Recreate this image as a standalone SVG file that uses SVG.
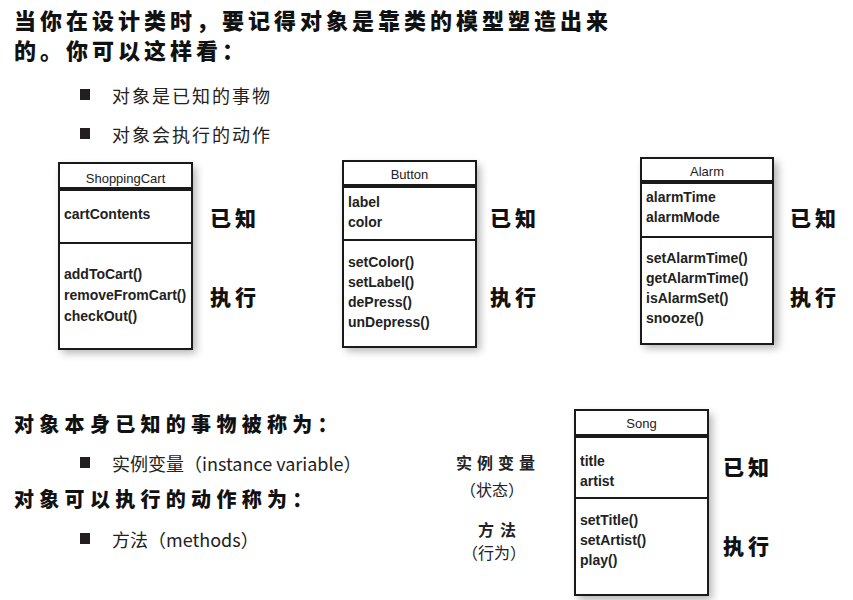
<svg xmlns="http://www.w3.org/2000/svg" width="853" height="600" viewBox="0 0 853 600">
<defs>
<filter id="sh" x="-20%" y="-20%" width="140%" height="140%"><feGaussianBlur stdDeviation="4"/></filter>
</defs>
<style>
.hand{font-family:"Noto Sans CJK SC","Noto Sans",sans-serif;font-weight:900;fill:#111}
.txt{font-family:"Noto Sans CJK SC","Liberation Sans",sans-serif;font-size:18px;fill:#222}
.hd{font-family:"Liberation Sans",Arial,sans-serif;font-size:13px;fill:#222;text-anchor:middle}
.bd{font-family:"Liberation Sans",Arial,sans-serif;font-size:14px;font-weight:bold;fill:#222}
.box{fill:#fff;stroke:#1a1a1a;stroke-width:2}
.bar{fill:#1a1a1a}
.div{stroke:#1a1a1a;stroke-width:2}
.shd{fill:#000;opacity:0.3}
.lab{font-family:"Noto Sans CJK SC",sans-serif;font-weight:900;font-size:21px;fill:#111;letter-spacing:4px}
.blt{fill:#231f20}
.side{font-family:"Noto Sans CJK SC",sans-serif;font-size:16px;fill:#222;text-anchor:middle}
</style>
<rect width="853" height="600" fill="#fff"/>
<g id="intro">
<text class="hand" x="14" y="29" font-size="22" letter-spacing="4">当你在设计类时，要记得对象是靠类的模型塑造出来</text>
<text class="hand" x="14" y="59" font-size="22" letter-spacing="4">的。你可以这样看：</text>
<rect class="blt" x="80" y="89" width="10" height="11"/>
<text class="txt" x="112" y="103" letter-spacing="2">对象是已知的事物</text>
<rect class="blt" x="80" y="128" width="10" height="11"/>
<text class="txt" x="112" y="142" letter-spacing="2">对象会执行的动作</text>
</g>
<g id="shoppingcart">
<rect class="shd" x="62" y="167" width="134" height="186" filter="url(#sh)"/>
<rect class="box" x="59" y="163" width="133" height="186"/>
<rect class="bar" x="59" y="187" width="133" height="4"/>
<line class="div" x1="59" y1="243" x2="192" y2="243"/>
<text class="hd" x="125.5" y="183">ShoppingCart</text>
<text class="bd" x="64" y="219">cartContents</text>
<text class="bd" x="64" y="279">addToCart()</text>
<text class="bd" x="64" y="300">removeFromCart()</text>
<text class="bd" x="64" y="321">checkOut()</text>
<rect x="206" y="188" width="52" height="134" fill="#fff"/>
<text class="lab" x="210" y="226">已知</text>
<text class="lab" x="210" y="305">执行</text>
</g>
<g id="button">
<rect class="shd" x="346" y="165" width="134" height="186" filter="url(#sh)"/>
<rect class="box" x="343" y="161" width="133" height="186"/>
<rect class="bar" x="343" y="184" width="133" height="4"/>
<line class="div" x1="343" y1="240" x2="476" y2="240"/>
<text class="hd" x="409.5" y="179">Button</text>
<text class="bd" x="348" y="207">label</text>
<text class="bd" x="348" y="227">color</text>
<text class="bd" x="348" y="267">setColor()</text>
<text class="bd" x="348" y="287">setLabel()</text>
<text class="bd" x="348" y="307">dePress()</text>
<text class="bd" x="348" y="327">unDepress()</text>
<rect x="487" y="188" width="52" height="134" fill="#fff"/>
<text class="lab" x="490" y="226">已知</text>
<text class="lab" x="490" y="305">执行</text>
</g>
<g id="alarm">
<rect class="shd" x="644" y="162" width="134" height="186" filter="url(#sh)"/>
<rect class="box" x="641" y="158" width="132" height="186"/>
<rect class="bar" x="641" y="180" width="132" height="4"/>
<line class="div" x1="641" y1="237" x2="773" y2="237"/>
<text class="hd" x="707" y="176">Alarm</text>
<text class="bd" x="646" y="202">alarmTime</text>
<text class="bd" x="646" y="222">alarmMode</text>
<text class="bd" x="646" y="263">setAlarmTime()</text>
<text class="bd" x="646" y="283">getAlarmTime()</text>
<text class="bd" x="646" y="303">isAlarmSet()</text>
<text class="bd" x="646" y="323">snooze()</text>
<rect x="787" y="188" width="52" height="134" fill="#fff"/>
<text class="lab" x="790" y="226">已知</text>
<text class="lab" x="790" y="305">执行</text>
</g>
<g id="summary">
<text class="hand" x="14" y="432" font-size="20" letter-spacing="5.3">对象本身已知的事物被称为：</text>
<rect class="blt" x="80" y="457" width="10" height="11"/>
<text class="txt" x="112" y="471">实例变量（instance variable）</text>
<text class="hand" x="14" y="507" font-size="20" letter-spacing="5.3">对象可以执行的动作称为：</text>
<rect class="blt" x="80" y="533" width="10" height="11"/>
<text class="txt" x="112" y="547">方法（methods）</text>
<text class="side" x="498" y="469" font-weight="bold" letter-spacing="5">实例变量</text>
<text class="side" x="492" y="496">（状态）</text>
<text class="side" x="500" y="536" font-weight="bold" letter-spacing="6">方法</text>
<text class="side" x="494" y="559">（行为）</text>
</g>
<g id="song">
<rect class="shd" x="578" y="414" width="134" height="186" filter="url(#sh)"/>
<rect class="box" x="575" y="410" width="133" height="185"/>
<rect class="bar" x="575" y="434" width="133" height="4"/>
<line class="div" x1="575" y1="498" x2="708" y2="498"/>
<text class="hd" x="641.5" y="428">Song</text>
<text class="bd" x="580" y="466">title</text>
<text class="bd" x="580" y="486">artist</text>
<text class="bd" x="580" y="525">setTitle()</text>
<text class="bd" x="580" y="545">setArtist()</text>
<text class="bd" x="580" y="565">play()</text>
<rect x="720" y="425" width="52" height="160" fill="#fff"/>
<text class="lab" x="723" y="475">已知</text>
<text class="lab" x="723" y="554">执行</text>
</g>
<g id="connectors"/>
</svg>
